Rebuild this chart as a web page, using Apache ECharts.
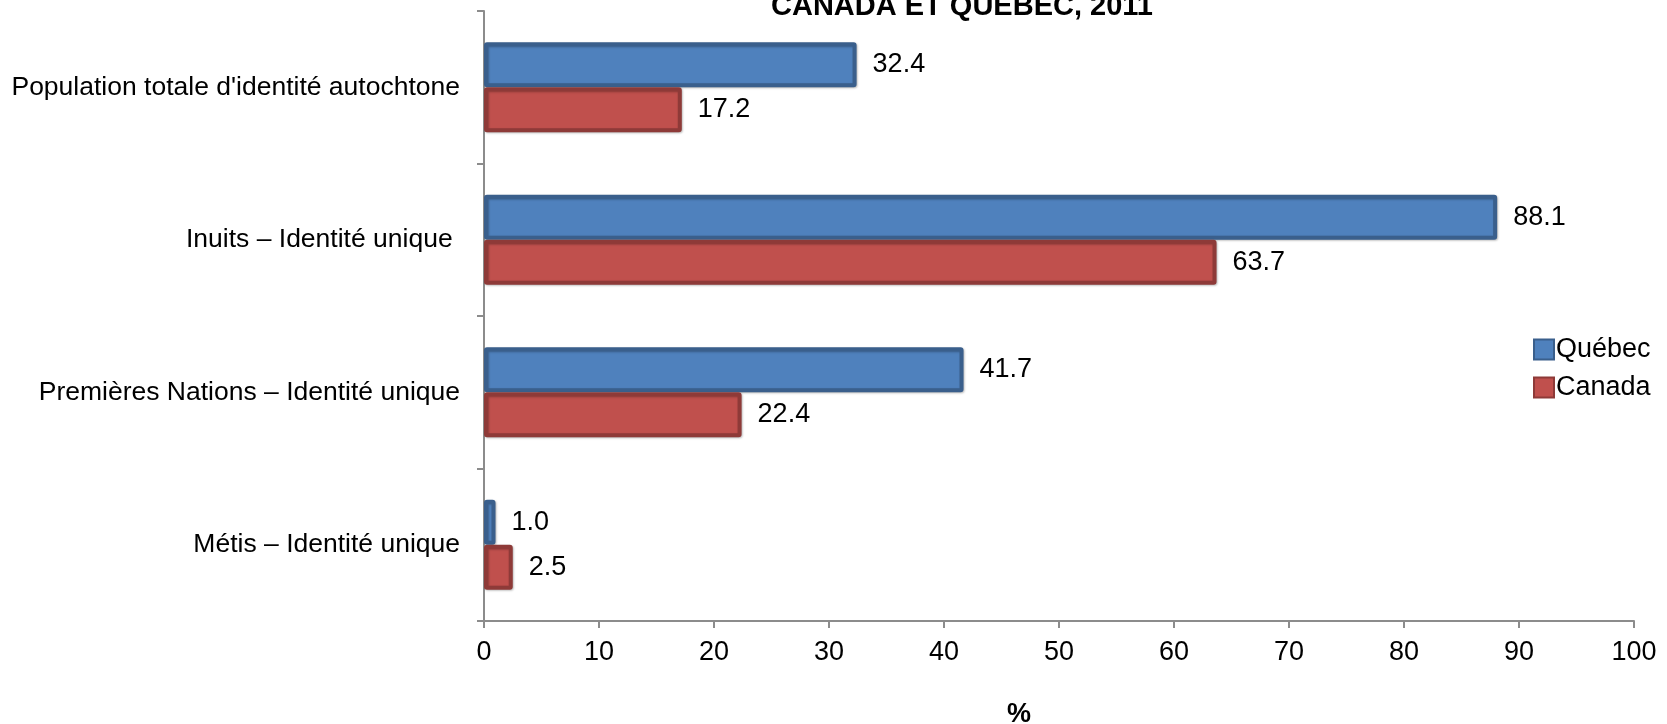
<!DOCTYPE html>
<html>
<head>
<meta charset="utf-8">
<style>
  html, body { margin: 0; padding: 0; background: #fff; }
  #chart { width: 1667px; height: 724px; }
</style>
<script src="https://cdn.jsdelivr.net/npm/echarts@6/dist/echarts.min.js"></script>
</head>
<body>
<div id="chart"></div>
<script>
  // categories, top to bottom
  var categories = [
    "Population totale d'identité autochtone",
    "Inuits – Identité unique ",
    "Premières Nations – Identité unique",
    "Métis – Identité unique"
  ];
  var quebec = [32.4, 88.1, 41.7, 1.0];
  var canada = [17.2, 63.7, 22.4, 2.5];

  var font = "'Liberation Sans', Arial, sans-serif";

  var chart = echarts.init(document.getElementById("chart"));

  function barSeries(name, data, fill, border) {
    return {
      name: name,
      type: "bar",
      data: data,
      barWidth: 45,
      barGap: "0%",
      itemStyle: {
        color: fill,
        borderColor: border,
        borderWidth: 4,
        borderRadius: 1,
        shadowColor: "rgba(0,0,0,0.25)",
        shadowBlur: 2,
        shadowOffsetX: 1,
        shadowOffsetY: 1
      },
      label: {
        show: true,
        position: "right",
        distance: 16,
        color: "#000",
        fontSize: 27,
        fontFamily: font,
        formatter: function (p) { return p.value.toFixed(1); }
      },
      animation: false
    };
  }

  chart.setOption({
    animation: false,
    title: {
      text: "CANADA ET QUÉBEC, 2011",
      left: 957,
      top: -13,
      textAlign: "center",
      textStyle: { fontSize: 29, fontWeight: "bold", color: "#000", fontFamily: font }
    },
    legend: {
      orient: "vertical",
      left: 1528,
      top: 331,
      itemWidth: 20,
      itemHeight: 20,
      itemGap: 11,
      icon: "rect",
      textStyle: { fontSize: 27, color: "#000", fontFamily: font, lineHeight: 26, padding: [0, 0, 0, -3] },
      data: ["Québec", "Canada"]
    },
    grid: { left: 484, right: 33, top: 11, bottom: 103, containLabel: false, outerBoundsMode: "none" },
    xAxis: {
      type: "value",
      min: 0,
      max: 100,
      interval: 10,
      splitLine: { show: false },
      axisLine: { show: true, lineStyle: { color: "#8c8c8c", width: 2 } },
      axisTick: { show: true, length: 7, lineStyle: { color: "#8c8c8c", width: 2 } },
      axisLabel: { fontSize: 27, color: "#000", fontFamily: font, margin: 18 },
      name: "%",
      nameLocation: "middle",
      nameGap: 80,
      nameTextStyle: { fontSize: 27, fontWeight: "bold", color: "#000", fontFamily: font, padding: [0, 80, 0, 0] }
    },
    yAxis: {
      type: "category",
      inverse: true,
      data: categories,
      axisLine: { show: true, lineStyle: { color: "#8c8c8c", width: 2 } },
      axisTick: { show: true, length: 7, lineStyle: { color: "#8c8c8c", width: 2 } },
      axisLabel: { fontSize: 26.5, color: "#000", fontFamily: font, margin: 24 }
    },
    series: [
      barSeries("Québec", quebec, "#4F81BD", "#3A5F8C"),
      barSeries("Canada", canada, "#C0504D", "#8E3A38")
    ]
  });
</script>
</body>
</html>
